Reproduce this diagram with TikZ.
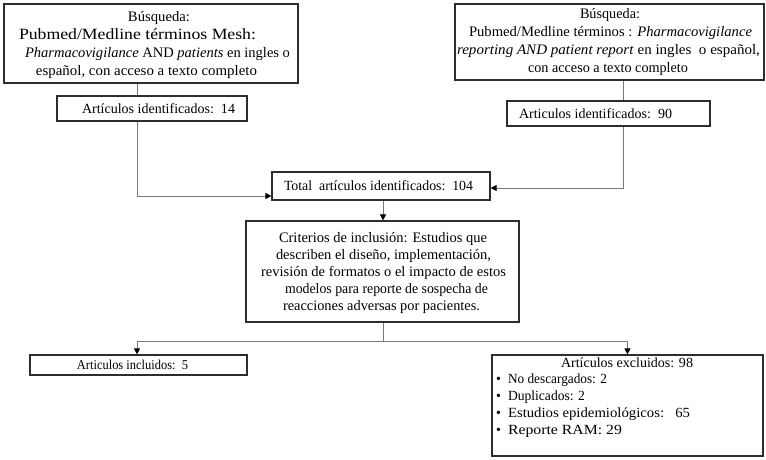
\documentclass[tikz,border=0pt]{standalone}
\usepackage{fontspec}
\setmainfont{Liberation Serif}
\usetikzlibrary{arrows.meta}
\definecolor{linegray}{RGB}{120,120,120}
\definecolor{boxgray}{RGB}{45,45,45}
% offset from box left, printed width, text
\newcommand\myline[3]{\hspace*{#1pt}\resizebox{#2pt}{\height}{#3}}
\begin{document}
\begin{tikzpicture}[x=1pt,y=-1pt,
  box/.style={draw=boxgray, line width=1.2pt, inner sep=0pt, align=left,
    font=\fontsize{14}{18}\selectfont},
  conn/.style={draw=linegray, line width=1pt},
  arr/.style={conn, -{Triangle[length=6pt,width=6pt,color=black]}}]
\useasboundingbox (0,0) rectangle (766,460);
\fill[white] (0,0) rectangle (766,460);

\node[box, minimum width=294pt, minimum height=79pt, font=\fontsize{14.5}{18}\selectfont] (b1) at (151,43.5)
  {\parbox{294pt}{\raggedright\vspace*{3pt}%
   \myline{124}{62}{Búsqueda:}\\
   \hspace*{15pt}\resizebox{237pt}{1.08\height}{Pubmed/Medline términos Mesh:}\\
   \myline{21}{265}{\textit{Pharmacovigilance} AND \textit{patients} en ingles o}\\
   \myline{32}{221}{español, con acceso a texto completo}}};
\node[box, minimum width=190pt, minimum height=25pt] (b2) at (152,108.5)
  {\makebox[190pt][l]{\myline{25}{153}{Artículos identificados:\ \ 14}}};

\node[box, minimum width=309pt, minimum height=76pt, font=\fontsize{14.5}{17.7}\selectfont] (b3) at (609.5,42)
  {\parbox{309pt}{\raggedright
   \myline{125}{60}{Búsqueda:}\\
   \myline{14}{283}{Pubmed/Medline términos : \textit{Pharmacovigilance}}\\
   \myline{2}{303}{\textit{reporting AND patient report} en ingles\ \ o español,}\\
   \myline{73}{160}{con acceso a texto completo}}};
\node[box, minimum width=203pt, minimum height=25pt] (b4) at (608.5,113.5)
  {\makebox[203pt][l]{\myline{12}{153}{Articulos identificados:\ \ 90}}};

\node[box, minimum width=218pt, minimum height=28pt] (tot) at (381,186)
  {\makebox[218pt][l]{\myline{12}{189}{Total\ \ artículos identificados:\ \ 104}}};

\node[box, minimum width=273pt, minimum height=101pt, font=\fontsize{14.5}{17}\selectfont] (crit) at (382.5,271.5)
  {\parbox{273pt}{\raggedright\vspace*{3pt}%
   \myline{33}{208}{Criterios de inclusión: Estudios que}\\
   \myline{30}{215}{describen el diseño, implementación,}\\
   \myline{15}{245}{revisión de formatos o el impacto de estos}\\
   \myline{39}{203}{modelos para reporte de sospecha de}\\
   \myline{37}{197}{reacciones adversas por pacientes.}}};

\node[box, minimum width=217pt, minimum height=20pt, font=\fontsize{13.5}{15}\selectfont] (inc) at (138.5,365)
  {\makebox[217pt][l]{\myline{47}{111}{Articulos incluidos:\ \ 5}}};

\node[box, minimum width=271pt, minimum height=101pt, font=\fontsize{14}{16.9}\selectfont] (exc) at (627.5,405.5)
  {\parbox{271pt}{\raggedright
   \myline{69}{132}{Artículos excluidos: 98}\\
   \hspace*{4pt}\makebox[12pt][l]{\textbullet}\resizebox{99pt}{\height}{No descargados: 2}\\
   \hspace*{4pt}\makebox[12pt][l]{\textbullet}\resizebox{77pt}{\height}{Duplicados: 2}\\
   \hspace*{4pt}\makebox[12pt][l]{\textbullet}\resizebox{182pt}{\height}{Estudios epidemiológicos:\ \ \ 65}\\
   \hspace*{4pt}\makebox[12pt][l]{\textbullet}\resizebox{114pt}{\height}{Reporte RAM: 29}\par\vspace*{16pt}}};

\coordinate (xl) at (137,0);
\coordinate (xr) at (623,0);
\coordinate (xm) at (383,0);
\coordinate (hy) at (0,341);
\coordinate (ly) at (0,196);
\coordinate (ry) at (0,188);

\draw[conn] (b1.south -| xl) -- (b2.north -| xl);
\draw[arr] (b2.south -| xl) |- (tot.west |- ly);
\draw[conn] (b3.south -| xr) -- (b4.north -| xr);
\draw[arr] (b4.south -| xr) |- (tot.east |- ry);
\draw[arr] (tot.south -| xm) -- (crit.north -| xm);
\draw[conn] (crit.south -| xm) -- (xm |- hy);
\draw[arr] (xm |- hy) -| (inc.north -| xl);
\draw[arr] (xm |- hy) -| (exc.north);
\end{tikzpicture}
\end{document}
